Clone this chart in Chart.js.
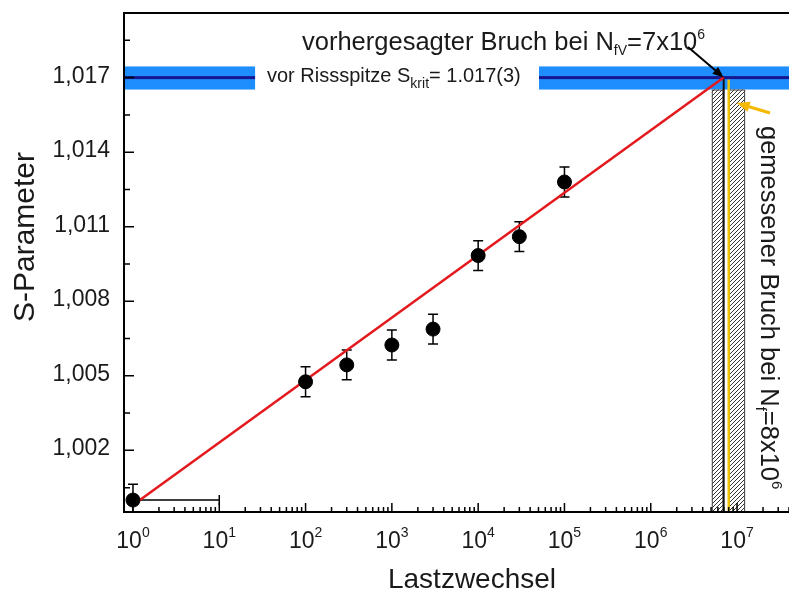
<!DOCTYPE html>
<html>
<head>
<meta charset="utf-8">
<script src="https://cdn.jsdelivr.net/npm/chart.js@4.4.1/dist/chart.umd.min.js"></script>
<style>
  html, body { margin: 0; padding: 0; background: #fff; }
  canvas { display: block; }
</style>
</head>
<body>
<canvas id="chart" width="789" height="592"></canvas>
<script>
// Messwerte: S-Parameter über Lastwechselzahl
const cycles = [1, 100, 300, 1000, 3000, 10000, 30000, 100000];
const sParam = [1.0000, 1.00476, 1.00544, 1.00624, 1.00688, 1.00984, 1.0106, 1.0128];
const sErr = [0.00064, 0.0006, 0.0006, 0.0006, 0.0006, 0.0006, 0.0006, 0.0006];
const nErrPlus = [9, 0, 0, 0, 0, 0, 0, 0];

// lineare Anpassung (rot)
const fitN = [1, 7e6];
const fitS = [0.9998, 1.017];

// Achsen
const yTicks = [1.002, 1.005, 1.008, 1.011, 1.014, 1.017];
const yMinorTicks = [1.0005, 1.0035, 1.0065, 1.0095, 1.0125, 1.0155, 1.0185];
const xDecades = [0, 1, 2, 3, 4, 5, 6, 7];
const xMin = 0.787, xMax = 4e7;
const yMin = 0.99952, yMax = 1.0196;

// kritischer Wert und Bruchlastwechsel
const sKrit = 1.017;
const sKritBand = [1.01652, 1.01745];
const bandPieces = [[xMin, 26], [5.07e4, xMax]];
const predictedN = 7e6;
const measuredN = 8e6;
const hatchRanges = [[5.1e6, 7e6], [8e6, 1.24e7]];

const FONT = '"Liberation Sans", Arial, sans-serif';
const TXT = '#1a1a1a';

function richText(ctx, parts, x, y, align) {
  let w = 0;
  parts.forEach(p => { ctx.font = p[1] + 'px ' + FONT; w += ctx.measureText(p[0]).width; });
  let cx = align === 'center' ? x - w / 2 : (align === 'right' ? x - w : x);
  ctx.textAlign = 'left';
  ctx.textBaseline = 'alphabetic';
  parts.forEach(p => {
    ctx.font = p[1] + 'px ' + FONT;
    ctx.fillText(p[0], cx, y + (p[2] || 0));
    cx += ctx.measureText(p[0]).width;
  });
}

function arrow(ctx, x0, y0, x1, y1, color, w, head) {
  const a = Math.atan2(y1 - y0, x1 - x0);
  ctx.strokeStyle = color; ctx.fillStyle = color; ctx.lineWidth = w;
  ctx.beginPath();
  ctx.moveTo(x0, y0);
  ctx.lineTo(x1 - head * 0.8 * Math.cos(a), y1 - head * 0.8 * Math.sin(a));
  ctx.stroke();
  ctx.beginPath();
  ctx.moveTo(x1, y1);
  ctx.lineTo(x1 - head * Math.cos(a - 0.38), y1 - head * Math.sin(a - 0.38));
  ctx.lineTo(x1 - head * Math.cos(a + 0.38), y1 - head * Math.sin(a + 0.38));
  ctx.closePath();
  ctx.fill();
}

function hatchPattern(ctx) {
  const c = document.createElement('canvas');
  c.width = c.height = 4;
  const g = c.getContext('2d');
  g.fillStyle = '#fff';
  g.fillRect(0, 0, 4, 4);
  g.strokeStyle = '#333';
  g.lineWidth = 1;
  g.beginPath();
  g.moveTo(0, 4); g.lineTo(4, 0);
  g.moveTo(-1, 1); g.lineTo(1, -1);
  g.moveTo(3, 5); g.lineTo(5, 3);
  g.stroke();
  return ctx.createPattern(c, 'repeat');
}

const decor = {
  id: 'decor',
  beforeDatasetsDraw(chart) {
    const { ctx, chartArea: a, scales: { x, y } } = chart;
    ctx.save();
    ctx.beginPath();
    ctx.rect(a.left, a.top, a.right - a.left, a.bottom - a.top);
    ctx.clip();

    // blaues Band um S_krit
    const yb0 = y.getPixelForValue(sKritBand[1]);
    const yb1 = y.getPixelForValue(sKritBand[0]);
    const yk = y.getPixelForValue(sKrit);
    bandPieces.forEach(([n0, n1]) => {
      const x0 = x.getPixelForValue(n0), x1 = x.getPixelForValue(n1);
      ctx.fillStyle = '#1e8eff';
      ctx.fillRect(x0, yb0, x1 - x0, yb1 - yb0);
      ctx.fillStyle = '#16168e';
      ctx.fillRect(x0, yk - 1.5, x1 - x0, 3);
    });

    // schraffierte Bereiche
    const pat = hatchPattern(ctx);
    hatchRanges.forEach(([n0, n1]) => {
      const x0 = x.getPixelForValue(n0), x1 = x.getPixelForValue(n1);
      ctx.fillStyle = pat;
      ctx.fillRect(x0, yb1, x1 - x0, a.bottom - yb1);
      ctx.strokeStyle = '#444';
      ctx.lineWidth = 1;
      ctx.strokeRect(x0 + 0.5, yb1 + 0.5, x1 - x0 - 1, a.bottom - yb1);
    });

    // vorhergesagter (schwarz) und gemessener (gelb) Bruch
    const xp = x.getPixelForValue(predictedN);
    ctx.fillStyle = '#111';
    ctx.fillRect(xp - 1, yk, 2, a.bottom - yk);
    const xm = x.getPixelForValue(measuredN);
    ctx.fillStyle = '#f2c400';
    ctx.fillRect(xm - 1.2, yk + 2, 2.4, a.bottom - yk - 2);

    // Fehlerbalken
    ctx.strokeStyle = '#000';
    ctx.lineWidth = 1.5;
    cycles.forEach((n, i) => {
      const px = x.getPixelForValue(n);
      const py = y.getPixelForValue(sParam[i]);
      const yt = y.getPixelForValue(sParam[i] + sErr[i]);
      const yl = y.getPixelForValue(sParam[i] - sErr[i]);
      ctx.beginPath();
      ctx.moveTo(px, yt); ctx.lineTo(px, yl);
      ctx.moveTo(px - 5, yt); ctx.lineTo(px + 5, yt);
      ctx.moveTo(px - 5, yl); ctx.lineTo(px + 5, yl);
      if (nErrPlus[i] > 0) {
        const xr = x.getPixelForValue(n + nErrPlus[i]);
        ctx.moveTo(px, py); ctx.lineTo(xr, py);
        ctx.moveTo(xr, py - 5); ctx.lineTo(xr, py + 5);
      }
      ctx.stroke();
    });
    ctx.restore();
  },
  afterDraw(chart) {
    const { ctx, chartArea: a, scales: { x, y } } = chart;
    ctx.save();

    // Rahmen
    ctx.strokeStyle = '#000';
    ctx.lineWidth = 2;
    ctx.beginPath();
    ctx.moveTo(a.right, a.top); ctx.lineTo(a.left, a.top);
    ctx.lineTo(a.left, a.bottom); ctx.lineTo(a.right, a.bottom);
    ctx.stroke();

    // Teilstriche nach innen
    ctx.lineWidth = 1.5;
    ctx.beginPath();
    yTicks.forEach(v => { const p = y.getPixelForValue(v); ctx.moveTo(a.left, p); ctx.lineTo(a.left + 10, p); });
    yMinorTicks.forEach(v => { const p = y.getPixelForValue(v); ctx.moveTo(a.left, p); ctx.lineTo(a.left + 6, p); });
    xDecades.forEach(d => {
      const p = x.getPixelForValue(Math.pow(10, d));
      ctx.moveTo(p, a.bottom); ctx.lineTo(p, a.bottom - 9);
      for (let m = 2; m <= 9; m++) {
        const v = m * Math.pow(10, d);
        if (v > xMax) break;
        const q = x.getPixelForValue(v);
        ctx.moveTo(q, a.bottom); ctx.lineTo(q, a.bottom - 5);
      }
    });
    ctx.stroke();

    // Beschriftungen
    ctx.fillStyle = TXT;
    ctx.font = '23px ' + FONT;
    ctx.textAlign = 'right';
    ctx.textBaseline = 'alphabetic';
    yTicks.forEach(v => {
      ctx.fillText(v.toFixed(3).replace('.', ','), a.left - 14, y.getPixelForValue(v) + 5);
    });
    xDecades.forEach(d => {
      richText(ctx, [['10', 23], [String(d), 14, -11]], x.getPixelForValue(Math.pow(10, d)), 548, 'center');
    });

    ctx.font = '28px ' + FONT;
    ctx.textAlign = 'center';
    ctx.fillText('Lastzwechsel', 472, 588);

    ctx.save();
    ctx.translate(34, 237);
    ctx.rotate(-Math.PI / 2);
    ctx.font = '30px ' + FONT;
    ctx.textAlign = 'center';
    ctx.fillText('S-Parameter', 0, 0);
    ctx.restore();

    richText(ctx, [['vorhergesagter Bruch bei N', 25.5], ['fV', 14, 5], ['=7x10', 25.5], ['6', 14, -11]], 302, 50, 'left');
    richText(ctx, [['vor Rissspitze S', 20], ['krit', 14, 6], ['= 1.017(3)', 20]], 267, 82, 'left');

    ctx.save();
    ctx.translate(761, 126);
    ctx.rotate(Math.PI / 2);
    richText(ctx, [['gemessener Bruch bei N', 25.5], ['f', 15, 5], ['=8x10', 25.5], ['6', 15, -11]], 0, 0, 'left');
    ctx.restore();

    // Pfeile
    const tipX = x.getPixelForValue(predictedN), tipY = y.getPixelForValue(sKrit);
    arrow(ctx, 688, 47, tipX, tipY, '#000', 2, 12);
    arrow(ctx, 770, 113, x.getPixelForValue(measuredN) + 8, 103, '#f5b800', 3, 14);
    ctx.restore();
  }
};

new Chart(document.getElementById('chart'), {
  type: 'scatter',
  data: {
    datasets: [
      {
        label: 'S-Parameter',
        data: cycles.map((n, i) => ({ x: n, y: sParam[i] })),
        backgroundColor: '#000',
        borderColor: '#000',
        pointRadius: 7,
        pointHoverRadius: 7,
        order: 1
      },
      {
        label: 'Fit',
        data: fitN.map((n, i) => ({ x: n, y: fitS[i] })),
        showLine: true,
        borderColor: '#e3191d',
        borderWidth: 2.5,
        pointRadius: 0,
        order: 2
      }
    ]
  },
  options: {
    responsive: false,
    animation: false,
    devicePixelRatio: 1,
    layout: { autoPadding: false, padding: { top: 13, left: 0, right: 0, bottom: 0 } },
    plugins: { legend: { display: false }, tooltip: { enabled: false } },
    scales: {
      x: {
        type: 'logarithmic',
        min: xMin,
        max: xMax,
        ticks: { display: false },
        grid: { display: false, drawTicks: false },
        border: { display: false },
        afterFit: s => { s.height = 80; }
      },
      y: {
        min: yMin,
        max: yMax,
        ticks: { display: false },
        grid: { display: false, drawTicks: false },
        border: { display: false },
        afterFit: s => { s.width = 124; }
      }
    }
  },
  plugins: [decor]
});
</script>
</body>
</html>
